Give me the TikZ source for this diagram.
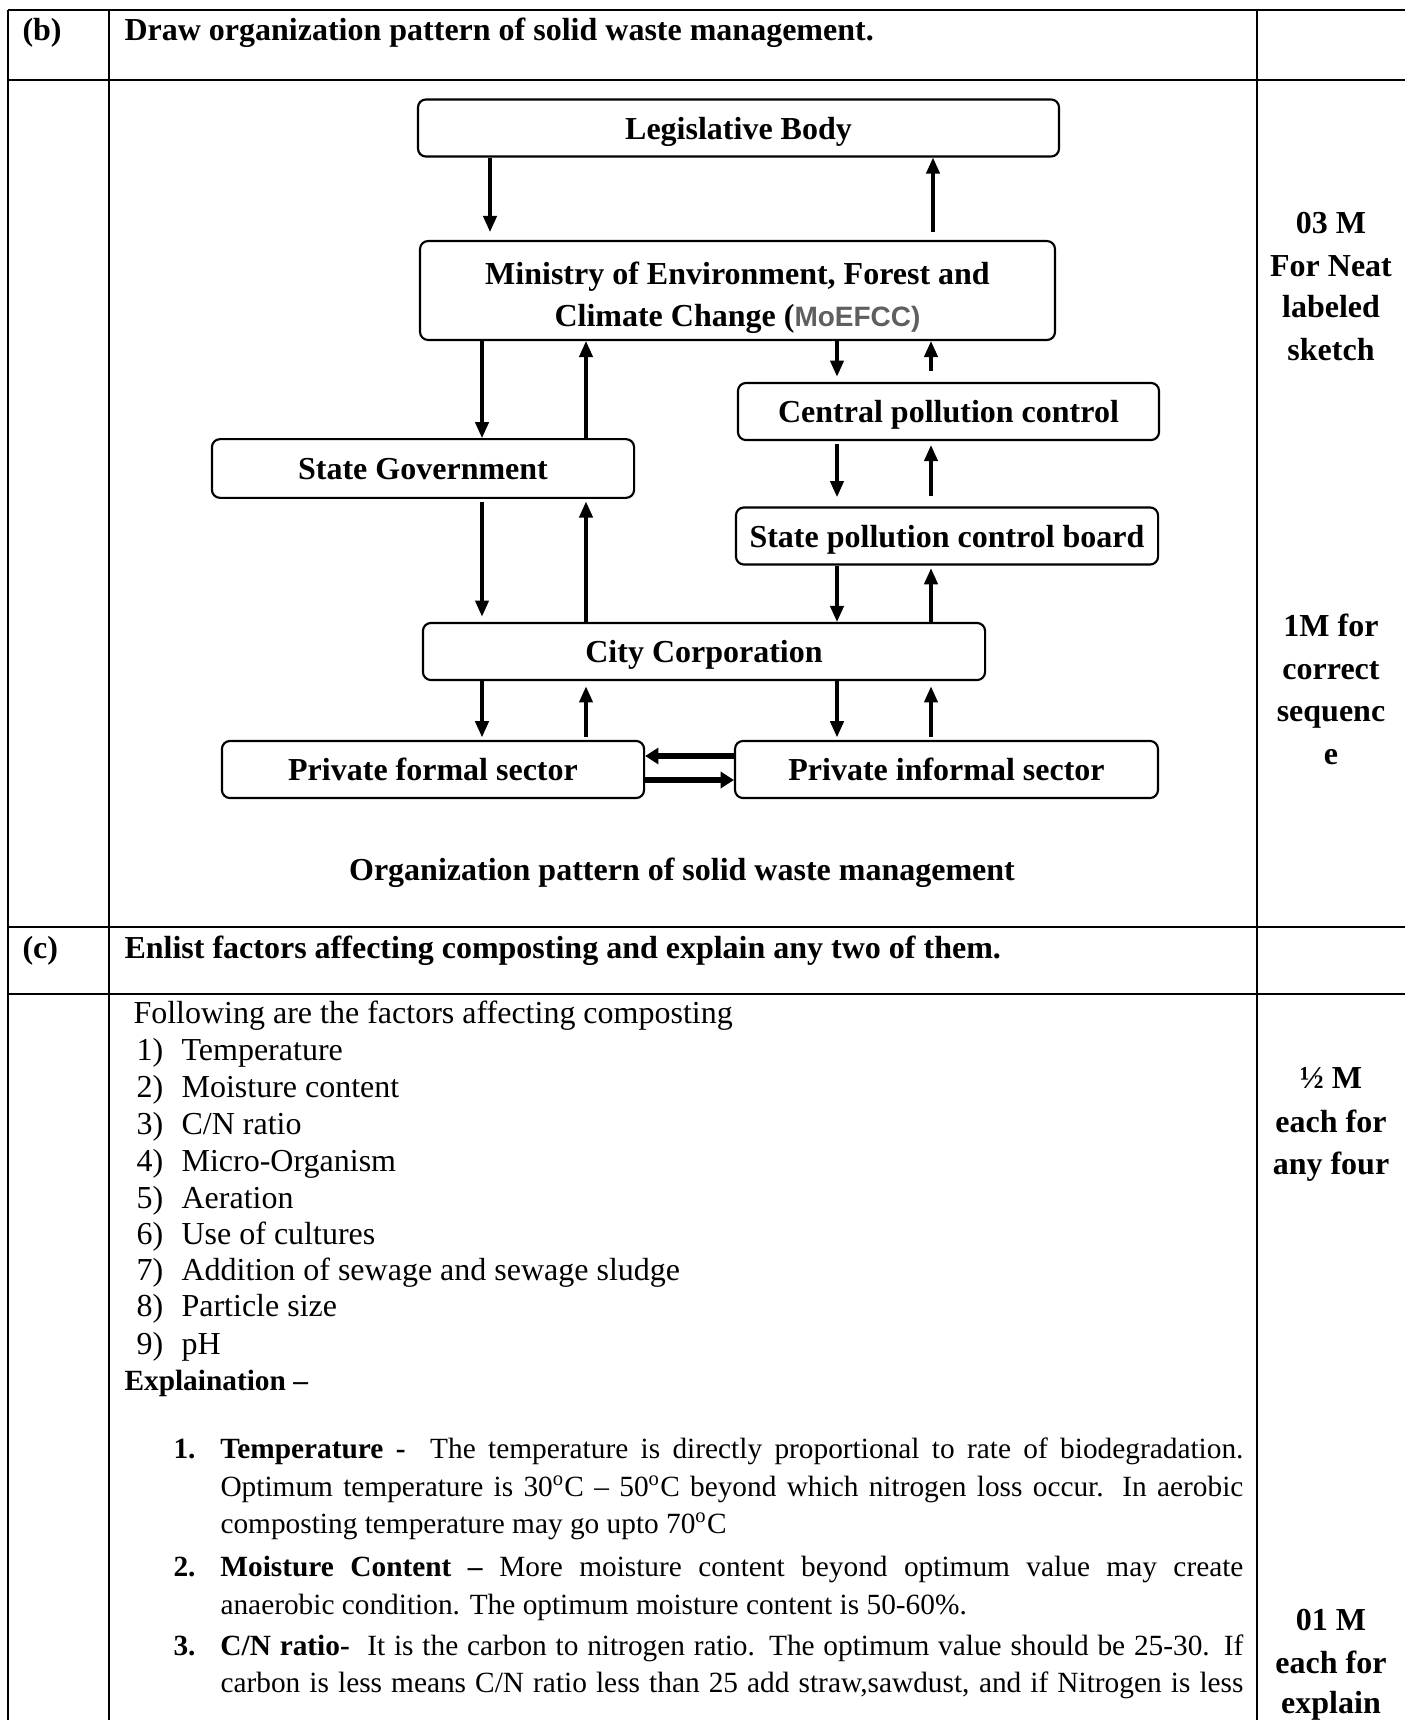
\documentclass[12pt,tikz,border=0pt]{standalone}
\usepackage{fontspec}
\setmainfont{Liberation Serif}
\setsansfont{Liberation Sans}
\usetikzlibrary{arrows.meta}
\definecolor{mgray}{HTML}{5F5F5F}

\begin{document}
\begin{tikzpicture}[x=0.375pt, y=-0.375pt,
  box/.style={draw, rounded corners=3pt, line width=0.8pt, minimum height=21.4pt, inner sep=0pt, text height=9.4pt, text depth=1pt, font=\bfseries},
  arr/.style={line width=1.2pt, -{Triangle[length=6pt, width=5pt]}},
  harr/.style={line width=2pt, -{Triangle[length=5pt, width=6pt]}},
  rule/.style={line width=1pt},
  txt/.style={anchor=base west, inner sep=0pt},
  small/.style={anchor=base west, inner sep=0pt, font=\fontsize{11}{13}\selectfont},
  score/.style={anchor=base, inner sep=0pt, font=\bfseries}]
\useasboundingbox (0,0) rectangle (1405,1720);

\draw [rule] (8,10) -- (1405,10);
\draw [rule] (8,80) -- (1405,80);
\draw [rule] (8,927) -- (1405,927);
\draw [rule] (8,994) -- (1405,994);
\draw [rule] (8,10) -- (8,1720);
\draw [rule] (109,10) -- (109,1720);
\draw [rule] (1257,10) -- (1257,1720);

\node[txt, font=\bfseries] (qb) at (22,40) {(b)};
\node[txt, font=\bfseries] (hb) at (124,40) {Draw organization pattern of solid waste management.};
\node[txt, font=\bfseries] (qc) at (22,958) {(c)};
\node[txt, font=\bfseries] (hc) at (124,958) {Enlist factors affecting composting and explain any two of them.};

\node[box, minimum width=240.4pt] (leg) at (738.5,128) {Legislative Body};
\node[box, minimum width=238.1pt, minimum height=37.1pt, text height=, text depth=, align=center] (moe) at (737.5,290.5) {\rule{0pt}{14pt}Ministry of Environment, Forest and\\[1.2pt]Climate Change (\textcolor{mgray}{\sffamily\fontsize{10.5}{12}\selectfont MoEFCC)}};
\node[box, minimum width=157.9pt] (cpc) at (948.5,411.5) {Central pollution control};
\node[box, minimum width=158.3pt, minimum height=22pt] (sg) at (423,468.5) {State Government};
\node[box, minimum width=158.3pt] (spcb) at (947,536) {State pollution control board};
\node[box, minimum width=210.8pt] (city) at (704,651.5) {City Corporation};
\node[box, minimum width=158.3pt] (pfs) at (433,769.5) {Private formal sector};
\node[box, minimum width=158.6pt] (pis) at (946.5,769.5) {Private informal sector};

\coordinate (xa) at (490,0);
\coordinate (xb) at (933,0);
\coordinate (xc) at (482,0);
\coordinate (xd) at (586,0);
\coordinate (xe) at (837,0);
\coordinate (xf) at (931,0);
\coordinate (ya) at (0,756);
\coordinate (yb) at (0,780);

\draw[arr, shorten >=3pt] (leg.south -| xa) -- (moe.north -| xa);
\draw[arr, shorten <=3pt] (moe.north -| xb) -- (leg.south -| xb);
\draw[arr] (moe.south -| xc) -- (sg.north -| xc);
\draw[arr] (sg.north -| xd) -- (moe.south -| xd);
\draw[arr, shorten >=2pt] (moe.south -| xe) -- (cpc.north -| xe);
\draw[arr, shorten <=4pt] (cpc.north -| xf) -- (moe.south -| xf);
\draw[arr, shorten <=1pt, shorten >=3.5pt] (cpc.south -| xe) -- (spcb.north -| xe);
\draw[arr, shorten <=4pt, shorten >=1.5pt] (spcb.north -| xf) -- (cpc.south -| xf);
\draw[arr, shorten <=1pt, shorten >=2pt] (sg.south -| xc) -- (city.north -| xc);
\draw[arr, shorten >=1pt] (city.north -| xd) -- (sg.south -| xd);
\draw[arr] (spcb.south -| xe) -- (city.north -| xe);
\draw[arr, shorten >=1pt] (city.north -| xf) -- (spcb.south -| xf);
\draw[arr, shorten >=1pt] (city.south -| xc) -- (pfs.north -| xc);
\draw[arr, shorten <=1pt, shorten >=2pt] (pfs.north -| xd) -- (city.south -| xd);
\draw[arr, shorten >=1pt] (city.south -| xe) -- (pis.north -| xe);
\draw[arr, shorten <=1pt, shorten >=2pt] (pis.north -| xf) -- (city.south -| xf);
\draw[harr] (pis.west |- ya) -- (pfs.east |- ya);
\draw[harr] (pfs.east |- yb) -- (pis.west |- yb);

\node[font=\bfseries] (cap) at (682,873) {Organization pattern of solid waste management};

\node[score] (m1) at (1331,233) {03 M};
\node[score] (m2) at (1331,276) {For Neat};
\node[score] (m3) at (1331,317) {labeled};
\node[score] (m4) at (1331,360) {sketch};
\node[score] (m5) at (1331,636) {1M for};
\node[score] (m6) at (1331,679) {correct};
\node[score] (m7) at (1331,721) {sequenc};
\node[score] (m8) at (1331,764) {e};
\node[score] (m9) at (1331,1088) {½ M};
\node[score] (m10) at (1331,1132) {each for};
\node[score] (m11) at (1331,1174) {any four};
\node[score] (m12) at (1331,1630) {01 M};
\node[score] (m13) at (1331,1673) {each for};
\node[score] (m14) at (1331,1713) {explain};

\node[txt] (intro) at (133,1023) {Following are the factors affecting composting};
\node[txt] (f1) at (136,1060) {\makebox[16.9pt][l]{1)}Temperature};
\node[txt] (f2) at (136,1097) {\makebox[16.9pt][l]{2)}Moisture content};
\node[txt] (f3) at (136,1134) {\makebox[16.9pt][l]{3)}C/N ratio};
\node[txt] (f4) at (136,1171) {\makebox[16.9pt][l]{4)}Micro-Organism};
\node[txt] (f5) at (136,1208) {\makebox[16.9pt][l]{5)}Aeration};
\node[txt] (f6) at (136,1244) {\makebox[16.9pt][l]{6)}Use of cultures};
\node[txt] (f7) at (136,1280) {\makebox[16.9pt][l]{7)}Addition of sewage and sewage sludge};
\node[txt] (f8) at (136,1316) {\makebox[16.9pt][l]{8)}Particle size};
\node[txt] (f9) at (136,1354) {\makebox[16.9pt][l]{9)}pH};
\node[small, font=\fontsize{11}{13}\selectfont\bfseries] (expl) at (124,1390) {Explaination –};

\node[small] (e1) at (173,1458) {\makebox[17.6pt][l]{\bfseries 1.}\makebox[383.6pt][s]{\textbf{Temperature -}\ \ The temperature is directly proportional to rate of biodegradation.}};
\node[small] (e2) at (220,1496) {\makebox[383.6pt][s]{Optimum temperature is 30\textsuperscript{o}C – 50\textsuperscript{o}C beyond which nitrogen loss occur. In aerobic}};
\node[small] (e3) at (220,1533) {composting temperature may go upto 70\textsuperscript{o}C};
\node[small] (e4) at (173,1576) {\makebox[17.6pt][l]{\bfseries 2.}\makebox[383.6pt][s]{\textbf{Moisture Content –} More moisture content beyond optimum value may create}};
\node[small] (e5) at (220,1614) {anaerobic condition. The optimum moisture content is 50-60\%.};
\node[small] (e6) at (173,1655) {\makebox[17.6pt][l]{\bfseries 3.}\makebox[383.6pt][s]{\textbf{C/N ratio-}\ \ It is the carbon to nitrogen ratio. The optimum value should be 25-30. If}};
\node[small] (e7) at (220,1692) {\makebox[383.6pt][s]{carbon is less means C/N ratio less than 25 add straw,sawdust, and if Nitrogen is less}};
\end{tikzpicture}
\end{document}
